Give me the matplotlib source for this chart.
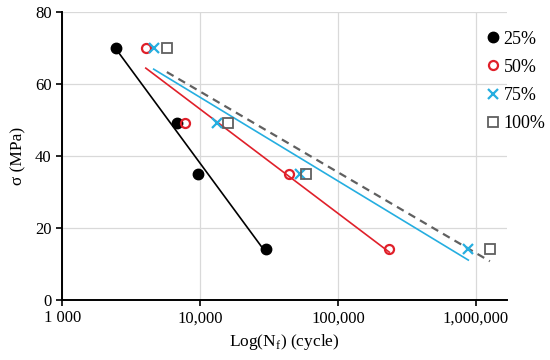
"""S-N curves (stress vs. cycles to failure) with log trendlines."""

import matplotlib

matplotlib.use("Agg")
import matplotlib.pyplot as plt
import numpy as np
from matplotlib.ticker import FixedLocator, FixedFormatter, NullLocator

plt.rcParams["font.family"] = ["Liberation Serif", "DejaVu Serif"]
plt.rcParams["mathtext.fontset"] = "custom"
plt.rcParams["mathtext.rm"] = "Liberation Serif"

# data
stress = [70, 49, 35, 14]
cycles_25 = [2450, 6780, 9730, 30200]
cycles_50 = [4040, 7820, 44200, 235000]
cycles_75 = [4610, 13200, 53100, 879000]
cycles_100 = [5740, 16000, 58300, 1260000]

labels = ["25%", "50%", "75%", "100%"]
x_ticks = [1e3, 1e4, 1e5, 1e6]
x_tick_labels = ["1 000", "10,000", "100,000", "1,000,000"]
y_ticks = [0, 20, 40, 60, 80]


def trendline(ax, cycles, y, **kw):
    """log10(N) に対する線形近似線を描く."""
    lx = np.log10(cycles)
    a, b = np.polyfit(lx, y, 1)
    xs = np.array([lx.min(), lx.max()])
    ax.plot(10 ** xs, a * xs + b, **kw)


fig = plt.figure(figsize=(5.5, 3.6), dpi=100)
ax = fig.add_axes([0.113, 0.167, 0.809, 0.8])

red = "#e0202a"
cyan = "#25aee0"
gray = "#606060"

# trendlines
trendline(ax, cycles_25, stress, color="black", lw=1.2, zorder=2)
trendline(ax, cycles_50, stress, color=red, lw=1.2, zorder=2)
trendline(ax, cycles_75, stress, color=cyan, lw=1.2, zorder=2)
trendline(ax, cycles_100, stress, color=gray, lw=1.6, ls=(0, (3.5, 2.5)), zorder=2)

# points
ax.plot(cycles_25, stress, "o", color="black", ms=7.5, ls="none", label=labels[0], zorder=3)
ax.plot(cycles_50, stress, "o", mfc="none", mec=red, mew=1.6, ms=6.5, ls="none",
        label=labels[1], zorder=3)
ax.plot(cycles_75, stress, "x", color=cyan, mew=1.6, ms=7.5, ls="none", label=labels[2], zorder=3)
ax.plot(cycles_100, stress, "s", mfc="none", mec=gray, mew=1.3, ms=6.5, ls="none",
        label=labels[3], zorder=3)

ax.set_xscale("log")
ax.set_xlim(1e3, 1.68e6)
ax.set_ylim(0, 80)
ax.xaxis.set_major_locator(FixedLocator(x_ticks))
ax.xaxis.set_major_formatter(FixedFormatter(x_tick_labels))
ax.xaxis.set_minor_locator(NullLocator())
ax.set_yticks(y_ticks)

ax.grid(True, color="#d9d9d9", lw=0.9, zorder=0)
ax.set_axisbelow(True)
for s in ["top", "right"]:
    ax.spines[s].set_visible(False)
for s in ["left", "bottom"]:
    ax.spines[s].set_linewidth(1.4)
ax.tick_params(axis="both", labelsize=12, width=1.2, length=4, direction="out")

ax.set_xlabel(r"Log(N$_\mathregular{f}$) (cycle)", fontsize=12.5, labelpad=4)
ax.set_ylabel("σ (MPa)", fontsize=12.5, labelpad=6)

ax.legend(loc="upper left", bbox_to_anchor=(0.935, 0.96), frameon=False, fontsize=13,
          handlelength=0.8, handletextpad=0.2, labelspacing=0.62, borderaxespad=0)

fig.savefig("out.png", dpi=100)
